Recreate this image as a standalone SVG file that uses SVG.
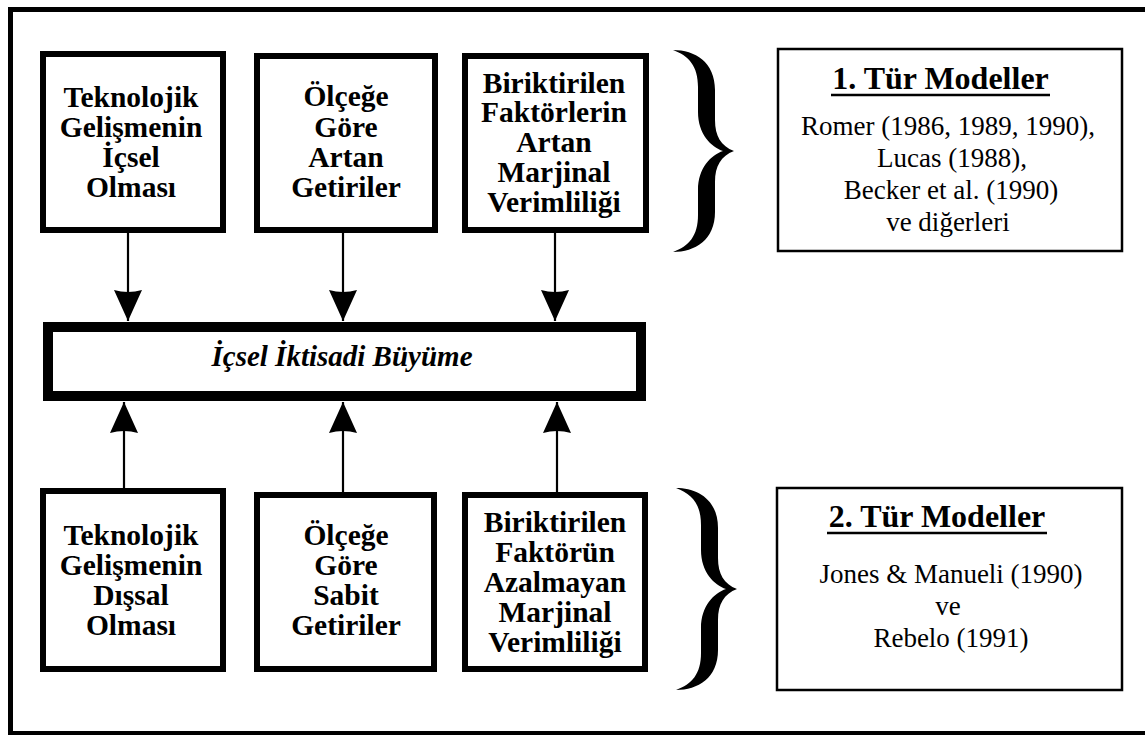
<svg xmlns="http://www.w3.org/2000/svg" width="1145" height="735" viewBox="0 0 1145 735">
<style>
.frame{fill:none;stroke:#000;stroke-width:5}
.box{fill:#fff;stroke:#000;stroke-width:6}
.bar{fill:#fff;stroke:#000;stroke-width:10}
.ref{fill:#fff;stroke:#000;stroke-width:2.5}
.conn{stroke:#000;stroke-width:2.2;fill:none}
.t{font-family:"Liberation Serif","Times New Roman",serif;font-weight:bold;font-size:29.5px;text-anchor:middle;fill:#000}
.bi{font-family:"Liberation Serif","Times New Roman",serif;font-weight:bold;font-style:italic;font-size:29px;text-anchor:middle;fill:#000}
.h{font-family:"Liberation Serif","Times New Roman",serif;font-weight:bold;font-size:32px;text-anchor:middle;fill:#000}
.r{font-family:"Liberation Serif","Times New Roman",serif;font-size:27px;text-anchor:middle;fill:#000}
.ul{stroke:#000;stroke-width:2.6}
.brace{fill:#000}
</style>
<defs>
<marker id="ah" viewBox="0 0 31 28" refX="31" refY="14" markerWidth="31" markerHeight="28" markerUnits="userSpaceOnUse" orient="auto">
<path d="M0,0 Q4,14 0,28 L31,14 Z" fill="#000"/>
</marker>
<path id="bracePath" d="M0,0 C22,0 42,12 42,40 L42,70 C42,86 48,96 61,101 C48,106 42,116 42,132 L42,162 C42,190 22,202 0,202 C16,196 25,186 25,165 L25,140 C25,118 38,105 50,101 C38,97 25,84 25,62 L25,37 C25,16 16,6 0,0 Z"/>
</defs>
<rect width="1145" height="735" fill="#fff"/>
<rect class="frame" x="10.5" y="9.5" width="1150" height="724"/>

<g id="connectors">
<line class="conn" x1="128" y1="232" x2="128" y2="321" marker-end="url(#ah)"/>
<line class="conn" x1="343" y1="232" x2="343" y2="321" marker-end="url(#ah)"/>
<line class="conn" x1="555" y1="232" x2="555" y2="321" marker-end="url(#ah)"/>
<line class="conn" x1="124" y1="489" x2="124" y2="402" marker-end="url(#ah)"/>
<line class="conn" x1="343" y1="493" x2="343" y2="402" marker-end="url(#ah)"/>
<line class="conn" x1="557" y1="493" x2="557" y2="402" marker-end="url(#ah)"/>
</g>

<g id="n1">
<rect class="box" x="43" y="54" width="180" height="176"/>
<text class="t" x="131" y="107">Teknolojik</text>
<text class="t" x="131" y="137">Gelişmenin</text>
<text class="t" x="131" y="167">İçsel</text>
<text class="t" x="131" y="197">Olması</text>
</g>
<g id="n2">
<rect class="box" x="257" y="56" width="178" height="174"/>
<text class="t" x="346" y="106">Ölçeğe</text>
<text class="t" x="346" y="137">Göre</text>
<text class="t" x="346" y="167">Artan</text>
<text class="t" x="346" y="197">Getiriler</text>
</g>
<g id="n3">
<rect class="box" x="465" y="56" width="181" height="174"/>
<text class="t" x="554" y="93">Biriktirilen</text>
<text class="t" x="554" y="122">Faktörlerin</text>
<text class="t" x="554" y="152">Artan</text>
<text class="t" x="554" y="182">Marjinal</text>
<text class="t" x="554" y="212">Verimliliği</text>
</g>
<g id="brace1" class="brace">
<use href="#bracePath" transform="translate(673,50)"/>
</g>
<g id="ref1">
<rect class="ref" x="778" y="49" width="344" height="202"/>
<text class="h" x="940.5" y="89">1. Tür Modeller</text>
<line class="ul" x1="831" y1="95" x2="1050" y2="95"/>
<text class="r" x="948" y="135">Romer (1986, 1989, 1990),</text>
<text class="r" x="952" y="167">Lucas (1988),</text>
<text class="r" x="951" y="199">Becker et al. (1990)</text>
<text class="r" x="948" y="231">ve diğerleri</text>
</g>

<g id="center">
<rect class="bar" x="48" y="327" width="593" height="69"/>
<text class="bi" x="342" y="366">İçsel İktisadi Büyüme</text>
</g>

<g id="n4">
<rect class="box" x="43" y="491" width="180" height="178"/>
<text class="t" x="131" y="545">Teknolojik</text>
<text class="t" x="131" y="575">Gelişmenin</text>
<text class="t" x="131" y="605">Dışsal</text>
<text class="t" x="131" y="635">Olması</text>
</g>
<g id="n5">
<rect class="box" x="257" y="495" width="177" height="174"/>
<text class="t" x="346" y="545">Ölçeğe</text>
<text class="t" x="346" y="575">Göre</text>
<text class="t" x="346" y="605">Sabit</text>
<text class="t" x="346" y="635">Getiriler</text>
</g>
<g id="n6">
<rect class="box" x="465" y="495" width="180" height="174"/>
<text class="t" x="555" y="532">Biriktirilen</text>
<text class="t" x="555" y="562">Faktörün</text>
<text class="t" x="555" y="592">Azalmayan</text>
<text class="t" x="555" y="622">Marjinal</text>
<text class="t" x="555" y="652">Verimliliği</text>
</g>
<g id="brace2" class="brace">
<use href="#bracePath" transform="translate(676,488) scale(1,1)"/>
</g>
<g id="ref2">
<rect class="ref" x="777" y="488" width="345" height="202"/>
<text class="h" x="937" y="527">2. Tür Modeller</text>
<line class="ul" x1="827" y1="533" x2="1047" y2="533"/>
<text class="r" x="951" y="583">Jones &amp; Manueli (1990)</text>
<text class="r" x="948" y="615">ve</text>
<text class="r" x="951" y="647">Rebelo (1991)</text>
</g>
</svg>
